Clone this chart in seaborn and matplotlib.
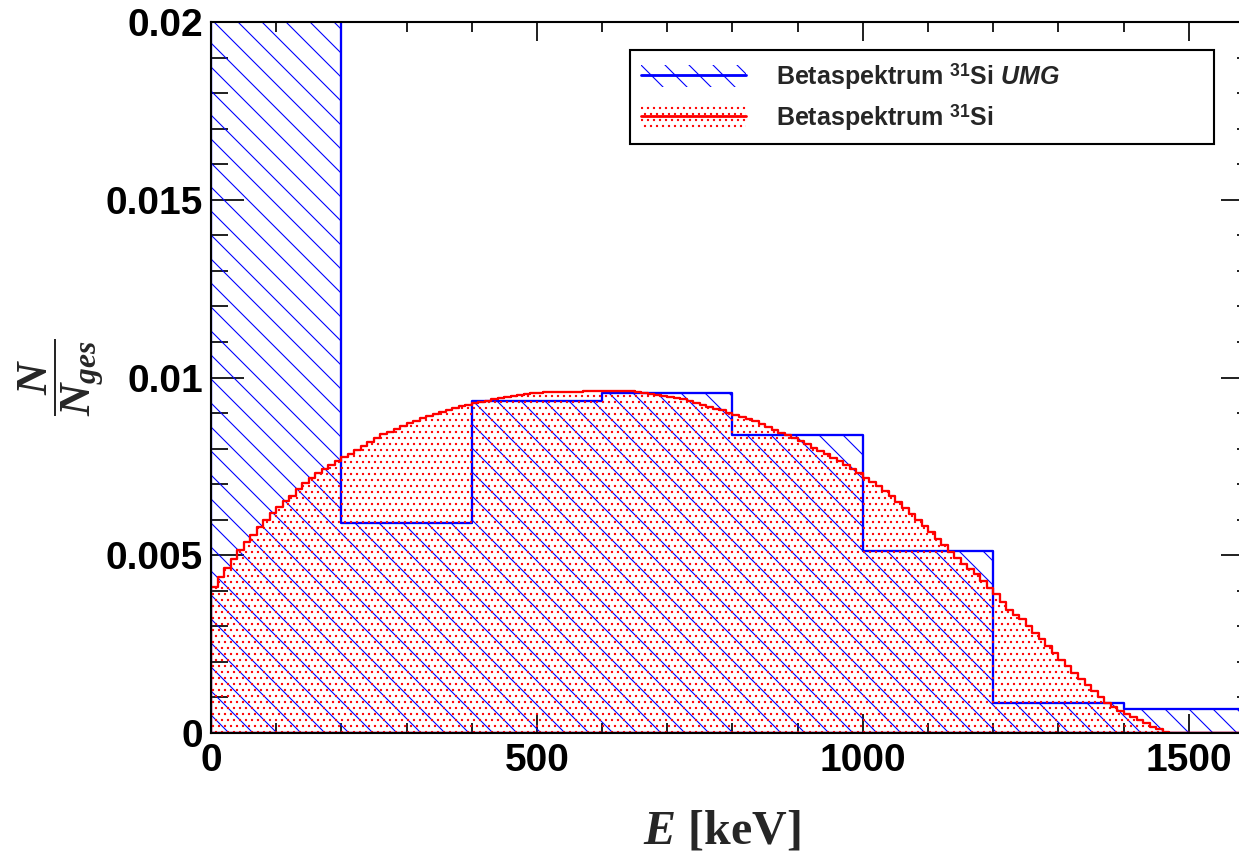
import numpy as np
import pandas as pd
import matplotlib
matplotlib.use("Agg")
import matplotlib.pyplot as plt
import seaborn as sns
from matplotlib.patches import Patch
from matplotlib.lines import Line2D
from matplotlib.legend_handler import HandlerTuple
from matplotlib.ticker import MultipleLocator

# ---------------- data ----------------
umg_edges = [0, 200, 400, 600, 800, 1000, 1200, 1400, 1600]
umg_values = [0.0300, 0.00590, 0.00934, 0.00956, 0.00838, 0.00512, 0.00085, 0.00068]

si_edges = list(range(0, 1610, 10))
si_values = [
    0.00410, 0.00440, 0.00465, 0.00490, 0.00514, 0.00537, 0.00557, 0.00580, 0.00600, 0.00618,
    0.00636, 0.00652, 0.00668, 0.00685, 0.00702, 0.00716, 0.00730, 0.00742, 0.00754, 0.00765,
    0.00775, 0.00785, 0.00796, 0.00808, 0.00818, 0.00830, 0.00840, 0.00848, 0.00856, 0.00864,
    0.00872, 0.00879, 0.00886, 0.00892, 0.00898, 0.00903, 0.00909, 0.00914, 0.00919, 0.00924,
    0.00929, 0.00932, 0.00935, 0.00939, 0.00942, 0.00945, 0.00948, 0.00951, 0.00953, 0.00955,
    0.00957, 0.00958, 0.00958, 0.00959, 0.00959, 0.00960, 0.00960, 0.00961, 0.00961, 0.00962,
    0.00962, 0.00962, 0.00962, 0.00962, 0.00961, 0.00960, 0.00957, 0.00954, 0.00951, 0.00948,
    0.00945, 0.00942, 0.00939, 0.00933, 0.00927, 0.00922, 0.00917, 0.00912, 0.00908, 0.00901,
    0.00895, 0.00889, 0.00884, 0.00877, 0.00869, 0.00861, 0.00853, 0.00845, 0.00838, 0.00830,
    0.00821, 0.00812, 0.00803, 0.00793, 0.00784, 0.00774, 0.00764, 0.00753, 0.00742, 0.00730,
    0.00718, 0.00706, 0.00694, 0.00680, 0.00666, 0.00649, 0.00632, 0.00616, 0.00599, 0.00582,
    0.00565, 0.00547, 0.00529, 0.00510, 0.00492, 0.00476, 0.00460, 0.00446, 0.00428, 0.00409,
    0.00390, 0.00368, 0.00347, 0.00333, 0.00322, 0.00300, 0.00281, 0.00264, 0.00246, 0.00224,
    0.00206, 0.00188, 0.00170, 0.00152, 0.00135, 0.00118, 0.00100, 0.00085, 0.00073, 0.00062,
    0.00053, 0.00045, 0.00036, 0.00027, 0.00018, 0.00010, 0.00004, 0.00000,
    0.0, 0.0, 0.0, 0.0, 0.0, 0.0, 0.0, 0.0, 0.0, 0.0, 0.0, 0.0,
]

x_ticks = [0, 500, 1000, 1500]
x_tick_labels = ["0", "500", "1000", "1500"]
y_ticks = [0, 0.005, 0.01, 0.015, 0.02]
y_tick_labels = ["0", "0.005", "0.01", "0.015", "0.02"]
series_labels = [r"Betaspektrum $^{\mathbf{31}}$Si $\mathsf{UMG}$",
                 r"Betaspektrum $^{\mathbf{31}}$Si"]
x_label = r"$E$ [keV]"
y_label = r"$\dfrac{N}{N_{ges}}$"

# ---------------- style ----------------
DPI = 72
sns.set_theme(style="white")
plt.rcParams["font.family"] = ["Liberation Sans", "DejaVu Sans"]
plt.rcParams["font.weight"] = "bold"
plt.rcParams["mathtext.fontset"] = "custom"
plt.rcParams["mathtext.rm"] = "Liberation Serif:bold"
plt.rcParams["mathtext.it"] = "Liberation Serif:italic:bold"
plt.rcParams["mathtext.bf"] = "Liberation Sans:bold"
plt.rcParams["mathtext.sf"] = "Liberation Sans:italic:bold"
plt.rcParams["hatch.linewidth"] = 1.1

fig = plt.figure(figsize=(1239 / DPI, 856 / DPI), dpi=DPI)
ax = fig.add_axes([211 / 1239, 1 - 733 / 856, 1043 / 1239, 711 / 856])

def centers(edges):
    e = np.asarray(edges, dtype=float)
    return (e[:-1] + e[1:]) / 2

df_umg = pd.DataFrame({"E": centers(umg_edges), "w": umg_values})
df_si = pd.DataFrame({"E": centers(si_edges), "w": si_values})

n0 = len(ax.collections)
sns.histplot(data=df_umg, x="E", weights="w", bins=umg_edges, element="step",
             fill=True, color="blue", alpha=1, ax=ax)
umg_coll = ax.collections[n0:]
n1 = len(ax.collections)
sns.histplot(data=df_si, x="E", weights="w", bins=si_edges, element="step",
             fill=True, color="red", alpha=1, ax=ax)
si_coll = ax.collections[n1:]

for c in umg_coll:
    c.set_facecolor("none")
    c.set_edgecolor("blue")
    c.set_hatch("\\")
    c.set_linewidth(2.3)
    c.set_alpha(1)
for c in si_coll:
    c.set_facecolor("none")
    c.set_edgecolor("red")
    c.set_hatch("..")
    c.set_linewidth(2.3)
    c.set_alpha(1)

ax.set_xlim(0, 1600)
ax.set_ylim(0, 0.02)

ax.set_xticks(x_ticks, x_tick_labels)
ax.set_yticks(y_ticks, y_tick_labels)
ax.xaxis.set_minor_locator(MultipleLocator(100))
ax.yaxis.set_minor_locator(MultipleLocator(0.001))
ax.tick_params(which="both", direction="in", top=True, right=True, bottom=True, left=True,
               labelsize=39, color="black", width=1.7, labelcolor="black")
ax.tick_params(axis="y", which="major", length=33, pad=8)
ax.tick_params(axis="y", which="minor", length=17)
ax.tick_params(axis="x", which="major", length=19, pad=10)
ax.tick_params(axis="x", which="minor", length=10)
for lab in ax.get_xticklabels() + ax.get_yticklabels():
    lab.set_fontweight("bold")

for s in ax.spines.values():
    s.set_color("black")
    s.set_linewidth(2.1)

ax.set_xlabel(x_label, fontfamily="Liberation Serif", fontweight="bold", fontsize=48)
ax.xaxis.set_label_coords(0.49, -0.138)
ax.xaxis.label.set_va("center")
ax.set_ylabel(y_label, fontsize=45)
ax.yaxis.set_label_coords(-0.144, 0.5)
ax.yaxis.label.set_va("center")

h1 = (Patch(facecolor="none", edgecolor="blue", hatch="\\", lw=0), Line2D([], [], color="blue", lw=2.8))
h2 = (Patch(facecolor="none", edgecolor="red", hatch="..", lw=0), Line2D([], [], color="red", lw=2.8))
leg = ax.legend([h1, h2], series_labels, handler_map={tuple: HandlerTuple(ndivide=1, pad=0)},
                loc="upper left", bbox_to_anchor=(630 / 1239, 1 - 138 / 856, 584 / 1239, 88 / 856),
                bbox_transform=fig.transFigure, mode="expand", fontsize=25, frameon=True,
                fancybox=False, edgecolor="black", framealpha=1, handlelength=4.2,
                handleheight=1.0, borderaxespad=0, borderpad=0.45, labelspacing=0.4,
                handletextpad=1.2)
leg.get_frame().set_linewidth(2.1)
for t in leg.get_texts():
    t.set_fontweight("bold")

fig.savefig("out.png", dpi=DPI)
